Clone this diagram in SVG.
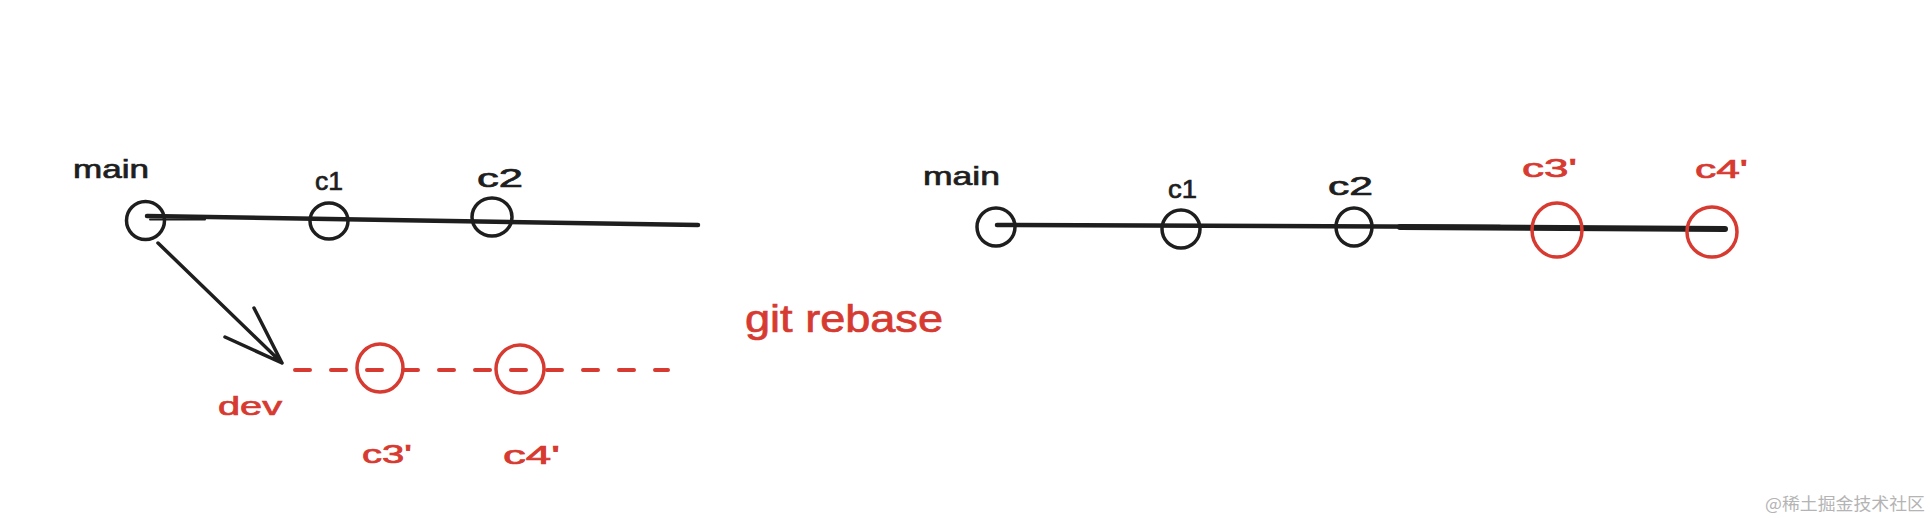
<svg xmlns="http://www.w3.org/2000/svg" width="1932" height="518" viewBox="0 0 1932 518">
  <style>
    .lbl { font-family: "Liberation Sans", "DejaVu Sans", sans-serif; font-size: 26px; stroke-width: 0.7; }
    .blk { fill: #1e1e1e; stroke: #1e1e1e; }
    .red { fill: #d63a30; stroke: #d63a30; }
    .ring { fill: none; stroke: #1e1e1e; stroke-width: 3.5; }
    .ring-red { fill: none; stroke: #d63a30; stroke-width: 3.5; }
    .edge { fill: none; stroke: #1e1e1e; stroke-linecap: round; stroke-linejoin: round; }
    .dash { fill: none; stroke: #d63a30; stroke-width: 4; stroke-linecap: round; stroke-dasharray: 15 21; }
    .wm { font-family: "Noto Sans CJK SC", "Liberation Sans", sans-serif; font-size: 17px; fill: #b4b4b4; }
  </style>
  <rect width="1932" height="518" fill="#ffffff"/>

  <g id="connectors">
    <path class="edge" stroke-width="4.5" d="M147 216 L698 225"/>
    <path class="edge" stroke-width="2" d="M150 219.5 L205 219.5"/>
    <path class="edge" stroke-width="3.5" d="M158 243 L282 363 M254 308 L282 363 L225 337"/>
    <path class="dash" d="M295 370 L668 370"/>
    <path class="edge" stroke-width="4.5" d="M997 225 L1500 227"/>
    <path class="edge" stroke-width="6" d="M1400 227 L1725 229"/>
  </g>

  <g id="left-main">
    <ellipse class="ring" cx="145.5" cy="220.5" rx="19" ry="19"/>
    <text class="lbl blk" x="73" y="178" textLength="76" lengthAdjust="spacingAndGlyphs">main</text>
  </g>
  <g id="left-c1">
    <ellipse class="ring" cx="329" cy="221" rx="19" ry="18"/>
    <text class="lbl blk" x="315" y="190" textLength="28" lengthAdjust="spacingAndGlyphs">c1</text>
  </g>
  <g id="left-c2">
    <ellipse class="ring" cx="492" cy="217" rx="20" ry="19"/>
    <text class="lbl blk" x="477" y="187" textLength="46" lengthAdjust="spacingAndGlyphs">c2</text>
  </g>
  <g id="dev-label">
    <text class="lbl red" x="218" y="415" textLength="64" lengthAdjust="spacingAndGlyphs">dev</text>
  </g>
  <g id="left-c3p">
    <ellipse class="ring-red" cx="380" cy="368" rx="23" ry="24"/>
    <text class="lbl red" x="362" y="463" textLength="50" lengthAdjust="spacingAndGlyphs">c3'</text>
  </g>
  <g id="left-c4p">
    <ellipse class="ring-red" cx="520" cy="369" rx="24" ry="24"/>
    <text class="lbl red" x="503" y="464" textLength="57" lengthAdjust="spacingAndGlyphs">c4'</text>
  </g>
  <g id="git-rebase">
    <text class="lbl red" x="745" y="332" style="font-size:38px" textLength="198" lengthAdjust="spacingAndGlyphs">git rebase</text>
  </g>

  <g id="right-main">
    <ellipse class="ring" cx="996" cy="227" rx="19" ry="19"/>
    <text class="lbl blk" x="923" y="185" textLength="77" lengthAdjust="spacingAndGlyphs">main</text>
  </g>
  <g id="right-c1">
    <ellipse class="ring" cx="1181" cy="229" rx="19" ry="19"/>
    <text class="lbl blk" x="1168" y="198" textLength="29" lengthAdjust="spacingAndGlyphs">c1</text>
  </g>
  <g id="right-c2">
    <ellipse class="ring" cx="1354" cy="227" rx="18" ry="19"/>
    <text class="lbl blk" x="1328" y="195" textLength="45" lengthAdjust="spacingAndGlyphs">c2</text>
  </g>
  <g id="right-c3p">
    <ellipse class="ring-red" cx="1557" cy="230" rx="25" ry="27"/>
    <text class="lbl red" x="1522" y="177" textLength="55" lengthAdjust="spacingAndGlyphs">c3'</text>
  </g>
  <g id="right-c4p">
    <ellipse class="ring-red" cx="1712" cy="232" rx="25" ry="25"/>
    <text class="lbl red" x="1695" y="178" textLength="53" lengthAdjust="spacingAndGlyphs">c4'</text>
  </g>

  <text class="wm" x="1765" y="510" textLength="160" lengthAdjust="spacingAndGlyphs">@稀土掘金技术社区</text>
</svg>
